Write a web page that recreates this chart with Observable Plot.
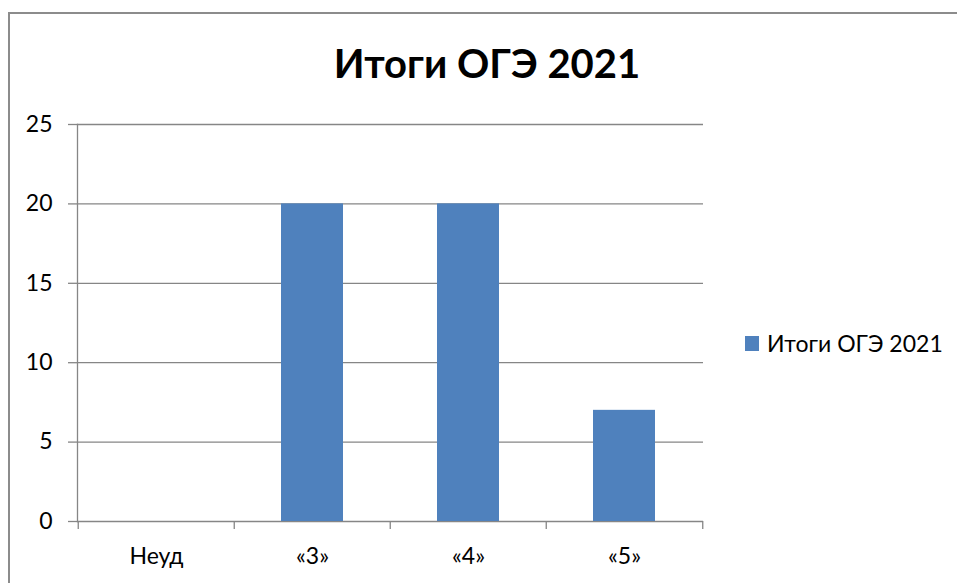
<!DOCTYPE html>
<html>
<head>
<meta charset="utf-8">
<script src="https://cdn.jsdelivr.net/npm/d3@7"></script>
<script src="https://cdn.jsdelivr.net/npm/@observablehq/plot@0.6"></script>
<style>
  html, body { margin: 0; padding: 0; background: #fff; }
  #wrap { position: relative; width: 957px; height: 583px; overflow: hidden; font-family: Lato, "Open Sans", sans-serif; }
  #border { position: absolute; left: 8px; top: 12px; right: -10px; bottom: -10px; border-left: 2px solid #8c8c8c; border-top: 2px solid #8c8c8c; }
  #title { position: absolute; left: 0; width: 974px; top: 38px; text-align: center; font-weight: 700; font-size: 40px; color: #000; line-height: 50px; }
  #legend { position: absolute; left: 745px; top: 329px; font-size: 23px; color: #000; display: flex; align-items: center; line-height: 28px; }
  #legend .sw { width: 14px; height: 15px; background: #4F81BD; margin-right: 8px; }
  #chart { position: absolute; left: 0; top: 0; }
</style>
</head>
<body>
<div id="wrap">
  <div id="chart"></div>
  <div id="border"></div>
  <div id="title"></div>
  <div id="legend"><div class="sw"></div><span id="legtext"></span></div>
</div>
<script>
const titleText = "Итоги ОГЭ 2021";
const seriesName = "Итоги ОГЭ 2021";
const categories = ["Неуд", "«3»", "«4»", "«5»"];
const values = [0, 20, 20, 7];
const yTicks = [0, 5, 10, 15, 20, 25];

const W = 957, H = 583;
const mL = 77, mR = 254, mT = 124, mB = 62;
const step = (W - mL - mR) / categories.length;
const data = categories.map((c, i) => ({cat: c, value: values[i]}));
const gray = "#868686";

document.getElementById("title").textContent = titleText;
document.getElementById("legtext").textContent = seriesName;

const chart = Plot.plot({
  width: W, height: H,
  marginLeft: mL, marginRight: mR, marginTop: mT, marginBottom: mB,
  style: {fontFamily: "Lato, 'Open Sans', sans-serif", background: "transparent"},
  x: {type: "band", domain: categories, paddingInner: 0.604, paddingOuter: 0.302, axis: null, label: null},
  y: {domain: [0, 25], axis: null, label: null},
  marks: [
    Plot.gridY(yTicks, {stroke: gray, strokeOpacity: 1, strokeWidth: 1.3}),
    Plot.axisY(yTicks, {tickSize: 9, tickPadding: 16, stroke: gray, strokeWidth: 1.3, fill: "#000", fontSize: 23, label: null, tickFormat: d => String(d)}),
    Plot.frame({anchor: "left", stroke: gray, strokeWidth: 1.3}),
    Plot.barY(data, {x: "cat", y: "value", fill: "#4F81BD"}),
    Plot.axisX(categories, {tickSize: 0, tickPadding: 26, fill: "#000", fontSize: 23, label: null}),
    Plot.axisX(categories, {tickSize: 8, text: null, label: null, stroke: gray, strokeWidth: 1.3, dx: -step / 2}),
    Plot.axisX(categories.slice(-1), {tickSize: 8, text: null, label: null, stroke: gray, strokeWidth: 1.3, dx: step / 2})
  ]
});
document.getElementById("chart").appendChild(chart);
</script>
</body>
</html>
